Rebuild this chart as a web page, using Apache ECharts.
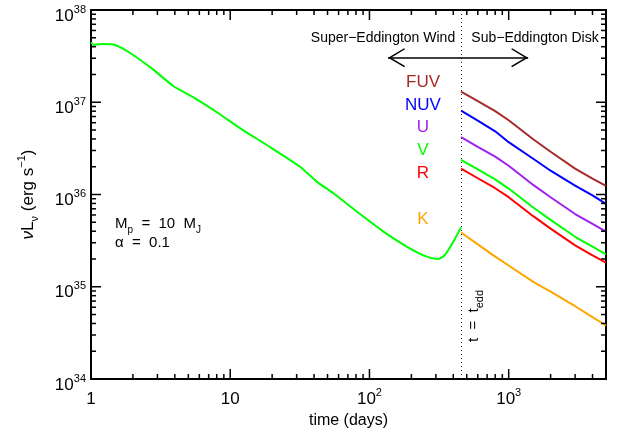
<!DOCTYPE html>
<html>
<head>
<meta charset="utf-8">
<script src="https://cdn.jsdelivr.net/npm/echarts@6/dist/echarts.min.js"></script>
<style>
  html, body { margin: 0; padding: 0; background: #fff; }
  #chart { width: 624px; height: 439px; }
</style>
</head>
<body>
<div id="chart"></div>
<script>
// wind phase (green), t < t_edd
const windTime = [1, 1.04, 1.2, 1.49, 1.85, 2.73, 3.90, 5.59, 8.21, 12.1, 18.3, 31.7, 41.8, 55.1, 81.1, 126, 185, 258, 313, 349, 401, 455]
const windLum = [4.45e37, 4.2e37, 4.27e37, 4.18e37, 3.53e37, 2.33e37, 1.50e37, 1.10e37, 7.60e36, 5.09e36, 3.44e36, 2.00e36, 1.38e36, 1.03e36, 6.53e35, 3.96e35, 2.73e35, 2.12e35, 2.00e35, 2.22e35, 3.09e35, 4.4e35]

// disk phase, t > t_edd
const diskTime = [455, 600, 800, 1000, 1500, 2000, 3000, 4000, 5000]
const fuvLum = [1.30e37, 1.03e37, 8.0e36, 6.38e36, 3.97e36, 2.91e36, 1.91e36, 1.49e36, 1.24e36]
const nuvLum = [8.11e36, 6.31e36, 4.84e36, 3.69e36, 2.44e36, 1.81e36, 1.25e36, 9.8e35, 7.9e35]
const uLum = [4.18e36, 3.29e36, 2.57e36, 2.05e36, 1.27e36, 9.33e35, 6.14e35, 4.79e35, 3.97e35]
const vLum = [2.37e36, 1.87e36, 1.46e36, 1.16e36, 7.23e35, 5.30e35, 3.48e35, 2.72e35, 2.25e35]
const rLum = [1.91e36, 1.50e36, 1.17e36, 9.35e35, 5.82e35, 4.27e35, 2.81e35, 2.19e35, 1.83e35]
const kLum = [3.87e35, 2.88e35, 2.12e35, 1.70e35, 1.13e35, 8.83e34, 6.15e34, 4.68e34, 3.80e34]

const bandNames = ['FUV', 'NUV', 'U', 'V', 'R', 'K']
const bandColors = ['#A52A2A', '#0000FF', '#A020F0', '#00FF00', '#FF0000', '#FFA500']
const bandLums = [fuvLum, nuvLum, uLum, vLum, rLum, kLum]

const tEdd = 455
const arrowFrom = 136
const arrowTo = 1380
const arrowLum = 3.04e37

// axis ranges and tick labels
const xMin = 1
const xMax = 5000
const yMin = 1e34
const yMax = 1e38
const xMajor = [1, 10, 100, 1000]
const yMajor = [1e34, 1e35, 1e36, 1e37, 1e38]
const xMinor = []
for (const d of [1, 10, 100, 1000]) {
  for (let m = 2; m <= 9; m++) {
    if (m * d <= xMax) xMinor.push(m * d)
  }
}
const yMinor = []
for (const d of [1e34, 1e35, 1e36, 1e37]) {
  for (let m = 2; m <= 9; m++) yMinor.push(m * d)
}

const font = 'Liberation Sans, Arial, sans-serif'
const rich = {
  b: { fontSize: 17, lineHeight: 24, fontFamily: font, color: '#000' },
  s: { fontSize: 11, lineHeight: 11, fontFamily: font, color: '#000', verticalAlign: 'top' }
}

const xLabel = (v) => {
  const p = Math.round(Math.log10(v))
  if (p === 0) return '{b|1}'
  if (p === 1) return '{b|10}'
  return '{b|10}{s|' + p + '}'
}
const yLabel = (v) => '{b|10}{s|' + Math.round(Math.log10(v)) + '}'

const chevron = 'path://M10,0 L10.02,0 L10,0.02 Z M10,20 L20,39 L18.8,40 L10,23.5 L1.2,40 L0,39 Z'

const series = [{
  type: 'line',
  data: windTime.map((t, i) => [t, windLum[i]]),
  showSymbol: false,
  smooth: 0.2,
  lineStyle: { color: '#00FF00', width: 2 },
  itemStyle: { color: '#00FF00' },
  markLine: {
    silent: true,
    animation: false,
    symbol: 'none',
    label: { show: false },
    data: [
      { xAxis: tEdd, lineStyle: { type: [1, 3], color: '#333', width: 1 } },
      [
        { coord: [arrowFrom, arrowLum], symbol: chevron, symbolSize: [19, 34], lineStyle: { type: 'solid', color: '#000', width: 1.5 } },
        { coord: [arrowTo, arrowLum], symbol: chevron, symbolSize: [19, 34] }
      ]
    ]
  }
}]

bandNames.forEach((name, i) => {
  series.push({
    type: 'line',
    data: diskTime.map((t, j) => [t, bandLums[i][j]]),
    showSymbol: false,
    lineStyle: { color: bandColors[i], width: 2 },
    itemStyle: { color: bandColors[i] }
  })
})

const bandLabelY = [82, 105.5, 127.5, 150.5, 173, 219.5]

const graphic = [
  {
    type: 'text', x: 383, y: 38,
    style: { text: 'Super−Eddington Wind', font: '14px ' + font, fill: '#000', align: 'center', verticalAlign: 'middle', textAlign: 'center', textVerticalAlign: 'middle' }
  },
  {
    type: 'text', x: 535, y: 38,
    style: { text: 'Sub−Eddington Disk', font: '14px ' + font, fill: '#000', align: 'center', verticalAlign: 'middle', textAlign: 'center', textVerticalAlign: 'middle' }
  },
  {
    type: 'text', x: 115, y: 224,
    style: {
      text: '{m|M}{sub|p}{m|  =  10  M}{sub|J}',
      align: 'left', verticalAlign: 'middle', textAlign: 'left', textVerticalAlign: 'middle',
      rich: {
        m: { fontSize: 15, lineHeight: 22, fontFamily: font, color: '#000' },
        sub: { fontSize: 10, lineHeight: 10, fontFamily: font, color: '#000', verticalAlign: 'bottom' }
      }
    }
  },
  {
    type: 'text', x: 115, y: 243,
    style: { text: 'α  =  0.1', font: '15px ' + font, fill: '#000', align: 'left', verticalAlign: 'middle', textAlign: 'left', textVerticalAlign: 'middle' }
  },
  {
    type: 'text', x: 474, y: 316, rotation: Math.PI / 2,
    style: {
      text: '{m|t  =  t}{sub|edd}',
      align: 'center', verticalAlign: 'middle', textAlign: 'center', textVerticalAlign: 'middle',
      rich: {
        m: { fontSize: 15, lineHeight: 22, fontFamily: font, color: '#000' },
        sub: { fontSize: 11, lineHeight: 11, fontFamily: font, color: '#000', verticalAlign: 'bottom' }
      }
    }
  }
]

bandNames.forEach((name, i) => {
  graphic.push({
    type: 'text', x: 423, y: bandLabelY[i],
    style: { text: name, font: '17px ' + font, fill: bandColors[i], align: 'center', verticalAlign: 'middle', textAlign: 'center', textVerticalAlign: 'middle' }
  })
})

const chart = echarts.init(document.getElementById('chart'), null, { renderer: 'canvas' })

const option = {
  animation: false,
  backgroundColor: '#fff',
  grid: {
    left: 91, right: 18, top: 10, bottom: 60,
    show: true, borderColor: '#000', borderWidth: 2,
    outerBoundsMode: 'none'
  },
  xAxis: {
    type: 'log', min: xMin, max: xMax,
    splitLine: { show: false },
    axisLine: { show: false, onZero: false },
    axisTick: { show: false },
    axisLabel: { show: true, customValues: xMajor, margin: 8, formatter: xLabel, rich: rich },
    name: 'time (days)',
    nameLocation: 'middle',
    nameGap: 30,
    nameTextStyle: { fontSize: 16, fontFamily: font, color: '#000' }
  },
  yAxis: {
    type: 'log', min: yMin, max: yMax,
    splitLine: { show: false },
    axisLine: { show: false, onZero: false },
    axisTick: { show: false },
    axisLabel: { show: true, customValues: yMajor, margin: 5, padding: [12, 0, 0, 0], formatter: yLabel, rich: rich },
    name: '{n|ν}{m|L}{sub|ν}{m| (erg s}{sup|−1}{m|)}',
    nameLocation: 'middle',
    nameGap: 51,
    nameTextStyle: {
      rich: {
        n: { fontSize: 17, lineHeight: 24, fontFamily: font, color: '#000', fontStyle: 'italic' },
        m: { fontSize: 17, lineHeight: 24, fontFamily: font, color: '#000' },
        sub: { fontSize: 11, lineHeight: 11, fontFamily: font, color: '#000', verticalAlign: 'bottom' },
        sup: { fontSize: 11, lineHeight: 11, fontFamily: font, color: '#000', verticalAlign: 'top' }
      }
    }
  },
  series: series
}

chart.setOption(option)

// inside ticks on all four sides, placed through the axis scales once the grid is laid out
const finder = { xAxisIndex: 0, yAxisIndex: 0 }
const tickLine = (x1, y1, x2, y2) => ({
  type: 'line', silent: true, z: 100,
  shape: { x1: x1, y1: y1, x2: x2, y2: y2 },
  style: { stroke: '#000', lineWidth: 1.5 }
})
const ticks = []
const addXTicks = (values, len) => values.forEach(v => {
  const b = chart.convertToPixel(finder, [v, yMin])
  const t = chart.convertToPixel(finder, [v, yMax])
  ticks.push(tickLine(b[0], b[1], b[0], b[1] - len))
  ticks.push(tickLine(t[0], t[1], t[0], t[1] + len))
})
const addYTicks = (values, len) => values.forEach(v => {
  const l = chart.convertToPixel(finder, [xMin, v])
  const r = chart.convertToPixel(finder, [xMax, v])
  ticks.push(tickLine(l[0], l[1], l[0] + len, l[1]))
  ticks.push(tickLine(r[0], r[1], r[0] - len, r[1]))
})
addXTicks(xMajor, 10)
addXTicks(xMinor, 5)
addYTicks(yMajor, 10)
addYTicks(yMinor, 5)

chart.setOption({ graphic: graphic.concat(ticks) })
</script>
</body>
</html>
